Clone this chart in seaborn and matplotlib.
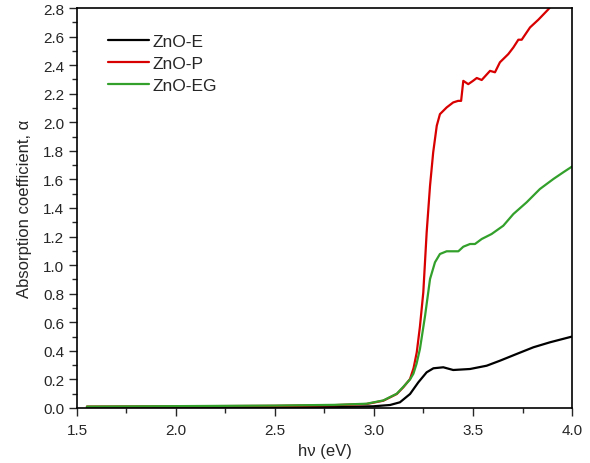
import matplotlib
matplotlib.use("Agg")
import matplotlib.pyplot as plt
import seaborn as sns
import pandas as pd
from matplotlib.ticker import MultipleLocator, FormatStrFormatter

# Data
e_x = [1.55, 2.0, 2.5, 2.8, 2.997, 3.081, 3.131, 3.182, 3.224, 3.266, 3.3, 3.35, 3.4,
       3.485, 3.569, 3.636, 3.72, 3.805, 3.889, 4.0]
e_y = [0.003, 0.004, 0.005, 0.007, 0.012, 0.021, 0.04, 0.098, 0.18, 0.25, 0.278, 0.285,
       0.266, 0.273, 0.296, 0.331, 0.378, 0.425, 0.46, 0.5]

p_x = [1.55, 2.0, 2.5, 2.8, 2.963, 3.047, 3.115, 3.148, 3.182, 3.2, 3.216, 3.232, 3.249,
       3.266, 3.283, 3.299, 3.317, 3.333, 3.367, 3.40, 3.425, 3.44, 3.451, 3.476, 3.50,
       3.519, 3.544, 3.586, 3.611, 3.636, 3.678, 3.704, 3.729, 3.746, 3.788, 3.83, 3.88,
       3.91]
p_y = [0.01, 0.012, 0.015, 0.02, 0.028, 0.051, 0.098, 0.145, 0.203, 0.28, 0.39, 0.57, 0.81,
       1.23, 1.556, 1.79, 1.976, 2.057, 2.104, 2.139, 2.15, 2.15, 2.29, 2.267, 2.29,
       2.31, 2.296, 2.36, 2.35, 2.42, 2.477, 2.524, 2.578, 2.578, 2.664, 2.718, 2.79,
       2.84]

eg_x = [1.55, 2.0, 2.5, 2.8, 2.963, 3.047, 3.115, 3.148, 3.182, 3.199, 3.215, 3.232, 3.258,
        3.283, 3.308, 3.333, 3.367, 3.426, 3.451, 3.485, 3.51, 3.544, 3.594, 3.653,
        3.704, 3.771, 3.838, 3.906, 3.956, 4.0]
eg_y = [0.01, 0.013, 0.017, 0.022, 0.03, 0.053, 0.10, 0.148, 0.2, 0.24, 0.31, 0.413, 0.646,
        0.903, 1.02, 1.078, 1.097, 1.097, 1.129, 1.148, 1.148, 1.183, 1.218, 1.276,
        1.358, 1.44, 1.533, 1.603, 1.65, 1.69]

labels = ["ZnO-E", "ZnO-P", "ZnO-EG"]
colors = ["#000000", "#d80000", "#33a02c"]

sns.set_style("ticks")
plt.rcParams['font.family'] = ['Liberation Sans', 'DejaVu Sans']

fig = plt.figure(figsize=(5.9, 4.64), dpi=100)
ax = fig.add_axes([77/590, 1 - 409/464, (572-77)/590, (409-9)/464])

for xs, ys, lab, col in zip([e_x, p_x, eg_x], [e_y, p_y, eg_y], labels, colors):
    df = pd.DataFrame({"x": xs, "y": ys})
    sns.lineplot(data=df, x="x", y="y", ax=ax, color=col, label=lab,
                 linewidth=1.6, sort=False)

ax.set_xlim(1.5, 4.0)
ax.set_ylim(0.0, 2.8)
ax.xaxis.set_major_locator(MultipleLocator(0.5))
ax.xaxis.set_minor_locator(MultipleLocator(0.25))
ax.yaxis.set_major_locator(MultipleLocator(0.2))
ax.yaxis.set_minor_locator(MultipleLocator(0.1))
ax.xaxis.set_major_formatter(FormatStrFormatter('%.1f'))
ax.yaxis.set_major_formatter(FormatStrFormatter('%.1f'))
ax.tick_params(which='major', direction='out', length=6, width=1, labelsize=11, pad=3)
ax.tick_params(which='minor', direction='out', length=3.5, width=1)
ax.tick_params(axis='x', which='major', pad=5)
for s in ax.spines.values():
    s.set_linewidth(1.2)
    s.set_color('black')

ax.set_xlabel("h\u03bd (eV)", fontsize=12, labelpad=4)
ax.set_ylabel("Absorption coefficient, \u03b1", fontsize=12, labelpad=8)

leg = ax.legend(loc='upper left', bbox_to_anchor=(0.048, 0.952), frameon=False,
                fontsize=12.5, handlelength=2.35, handletextpad=0.25, labelspacing=0.4,
                borderaxespad=0)

fig.savefig("out.png", dpi=100)
